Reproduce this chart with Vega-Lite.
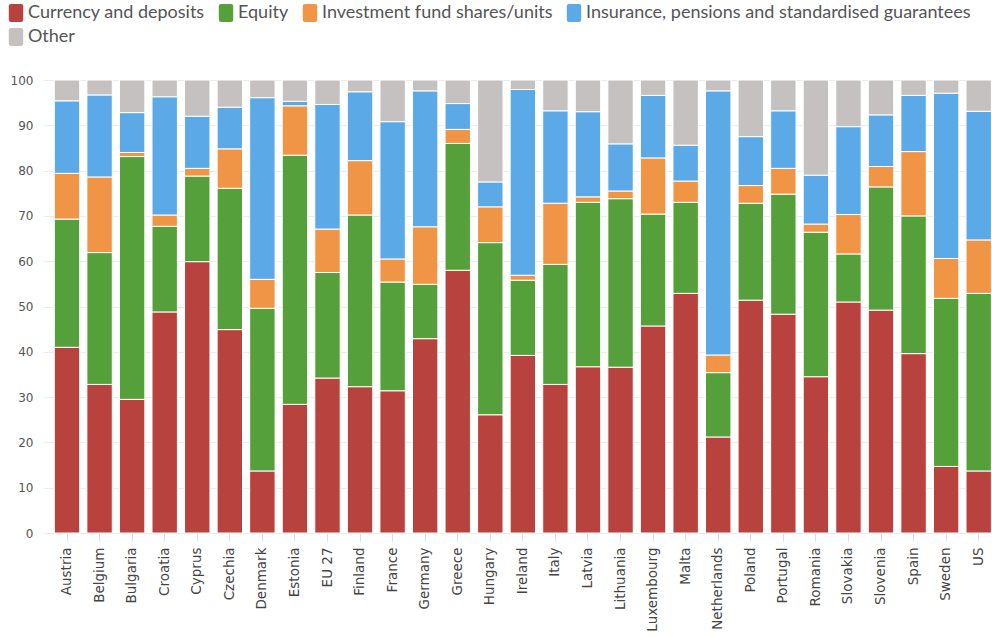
{
  "$schema": "https://vega.github.io/schema/vega-lite/v6.json",
  "autosize": {"type": "none"},
  "width": 949,
  "height": 453,
  "padding": {"left": 43, "top": 80, "right": 0, "bottom": 104},
  "background": "white",
  "data": {
    "values": [
      {"country": "Austria", "Currency and deposits": 41.0, "Equity": 28.3, "Investment fund shares/units": 10.1, "Insurance, pensions and standardised guarantees": 16.0, "Other": 4.6},
      {"country": "Belgium", "Currency and deposits": 32.8, "Equity": 29.1, "Investment fund shares/units": 16.7, "Insurance, pensions and standardised guarantees": 18.1, "Other": 3.3},
      {"country": "Bulgaria", "Currency and deposits": 29.5, "Equity": 53.6, "Investment fund shares/units": 0.9, "Insurance, pensions and standardised guarantees": 8.8, "Other": 7.2},
      {"country": "Croatia", "Currency and deposits": 48.8, "Equity": 18.9, "Investment fund shares/units": 2.5, "Insurance, pensions and standardised guarantees": 26.1, "Other": 3.7},
      {"country": "Cyprus", "Currency and deposits": 59.9, "Equity": 18.9, "Investment fund shares/units": 1.7, "Insurance, pensions and standardised guarantees": 11.5, "Other": 8.0},
      {"country": "Czechia", "Currency and deposits": 44.9, "Equity": 31.2, "Investment fund shares/units": 8.7, "Insurance, pensions and standardised guarantees": 9.2, "Other": 6.0},
      {"country": "Denmark", "Currency and deposits": 13.7, "Equity": 35.9, "Investment fund shares/units": 6.4, "Insurance, pensions and standardised guarantees": 40.1, "Other": 3.9},
      {"country": "Estonia", "Currency and deposits": 28.4, "Equity": 55.0, "Investment fund shares/units": 10.9, "Insurance, pensions and standardised guarantees": 1.0, "Other": 4.7},
      {"country": "EU 27", "Currency and deposits": 34.2, "Equity": 23.3, "Investment fund shares/units": 9.6, "Insurance, pensions and standardised guarantees": 27.5, "Other": 5.4},
      {"country": "Finland", "Currency and deposits": 32.3, "Equity": 37.9, "Investment fund shares/units": 12.0, "Insurance, pensions and standardised guarantees": 15.2, "Other": 2.6},
      {"country": "France", "Currency and deposits": 31.4, "Equity": 24.0, "Investment fund shares/units": 5.1, "Insurance, pensions and standardised guarantees": 30.3, "Other": 9.2},
      {"country": "Germany", "Currency and deposits": 42.9, "Equity": 12.0, "Investment fund shares/units": 12.7, "Insurance, pensions and standardised guarantees": 30.0, "Other": 2.4},
      {"country": "Greece", "Currency and deposits": 58.0, "Equity": 28.0, "Investment fund shares/units": 3.1, "Insurance, pensions and standardised guarantees": 5.7, "Other": 5.2},
      {"country": "Hungary", "Currency and deposits": 26.1, "Equity": 38.0, "Investment fund shares/units": 7.9, "Insurance, pensions and standardised guarantees": 5.5, "Other": 22.5},
      {"country": "Ireland", "Currency and deposits": 39.2, "Equity": 16.6, "Investment fund shares/units": 1.1, "Insurance, pensions and standardised guarantees": 41.0, "Other": 2.1},
      {"country": "Italy", "Currency and deposits": 32.8, "Equity": 26.5, "Investment fund shares/units": 13.5, "Insurance, pensions and standardised guarantees": 20.4, "Other": 6.8},
      {"country": "Latvia", "Currency and deposits": 36.7, "Equity": 36.3, "Investment fund shares/units": 1.2, "Insurance, pensions and standardised guarantees": 18.8, "Other": 7.0},
      {"country": "Lithuania", "Currency and deposits": 36.6, "Equity": 37.2, "Investment fund shares/units": 1.7, "Insurance, pensions and standardised guarantees": 10.4, "Other": 14.1},
      {"country": "Luxembourg", "Currency and deposits": 45.7, "Equity": 24.7, "Investment fund shares/units": 12.4, "Insurance, pensions and standardised guarantees": 13.8, "Other": 3.4},
      {"country": "Malta", "Currency and deposits": 52.9, "Equity": 20.1, "Investment fund shares/units": 4.7, "Insurance, pensions and standardised guarantees": 7.9, "Other": 14.4},
      {"country": "Netherlands", "Currency and deposits": 21.2, "Equity": 14.2, "Investment fund shares/units": 3.9, "Insurance, pensions and standardised guarantees": 58.3, "Other": 2.4},
      {"country": "Poland", "Currency and deposits": 51.4, "Equity": 21.4, "Investment fund shares/units": 3.9, "Insurance, pensions and standardised guarantees": 10.8, "Other": 12.5},
      {"country": "Portugal", "Currency and deposits": 48.3, "Equity": 26.5, "Investment fund shares/units": 5.7, "Insurance, pensions and standardised guarantees": 12.7, "Other": 6.8},
      {"country": "Romania", "Currency and deposits": 34.5, "Equity": 31.9, "Investment fund shares/units": 1.8, "Insurance, pensions and standardised guarantees": 10.8, "Other": 21.0},
      {"country": "Slovakia", "Currency and deposits": 51.0, "Equity": 10.6, "Investment fund shares/units": 8.7, "Insurance, pensions and standardised guarantees": 19.4, "Other": 10.3},
      {"country": "Slovenia", "Currency and deposits": 49.2, "Equity": 27.2, "Investment fund shares/units": 4.5, "Insurance, pensions and standardised guarantees": 11.4, "Other": 7.7},
      {"country": "Spain", "Currency and deposits": 39.6, "Equity": 30.4, "Investment fund shares/units": 14.2, "Insurance, pensions and standardised guarantees": 12.4, "Other": 3.4},
      {"country": "Sweden", "Currency and deposits": 14.7, "Equity": 37.1, "Investment fund shares/units": 8.8, "Insurance, pensions and standardised guarantees": 36.5, "Other": 2.9},
      {"country": "US", "Currency and deposits": 13.7, "Equity": 39.2, "Investment fund shares/units": 11.8, "Insurance, pensions and standardised guarantees": 28.4, "Other": 6.9}
    ]
  },
  "transform": [
    {
      "fold": ["Currency and deposits", "Equity", "Investment fund shares/units", "Insurance, pensions and standardised guarantees", "Other"],
      "as": ["asset", "share"]
    },
    {"window": [{"op": "row_number", "as": "layer"}], "groupby": ["country"]}
  ],
  "mark": {"type": "bar", "stroke": "white", "strokeWidth": 1},
  "encoding": {
    "x": {
      "field": "country",
      "type": "nominal",
      "sort": null,
      "title": null,
      "scale": {"paddingInner": 0.22, "paddingOuter": 0.183, "align": 0.95},
      "axis": {
        "labelAngle": -90,
        "labelFont": "DejaVu Sans",
        "labelFontSize": 13.5,
        "labelColor": "#444444",
        "labelPadding": 6,
        "domain": false,
        "ticks": true,
        "tickColor": "#dddddd",
        "tickSize": 8,
        "grid": false
      }
    },
    "y": {
      "field": "share",
      "type": "quantitative",
      "stack": "zero",
      "title": null,
      "scale": {"domain": [0, 100], "nice": false},
      "axis": {
        "values": [0, 10, 20, 30, 40, 50, 60, 70, 80, 90, 100],
        "labelFont": "DejaVu Sans",
        "labelFontSize": 12,
        "labelColor": "#555555",
        "labelPadding": 10,
        "domain": false,
        "ticks": false,
        "grid": true,
        "gridColor": "#ececec",
        "gridWidth": 1
      }
    },
    "order": {"field": "layer", "type": "quantitative", "sort": "ascending"},
    "color": {
      "field": "asset",
      "type": "nominal",
      "sort": ["Currency and deposits", "Equity", "Investment fund shares/units", "Insurance, pensions and standardised guarantees", "Other"],
      "scale": {
        "domain": ["Currency and deposits", "Equity", "Investment fund shares/units", "Insurance, pensions and standardised guarantees", "Other"],
        "range": ["#b8423d", "#56a03b", "#ef9545", "#5ba9e6", "#c5c1c0"]
      },
      "legend": {
        "title": null,
        "orient": "none",
        "legendX": -36,
        "legendY": -76,
        "direction": "horizontal",
        "columns": 4,
        "symbolType": "M-0.55,-1L0.55,-1Q0.8,-1 0.8,-0.75L0.8,0.75Q0.8,1 0.55,1L-0.55,1Q-0.8,1 -0.8,0.75L-0.8,-0.75Q-0.8,-1 -0.55,-1Z",
        "symbolSize": 324,
        "symbolStrokeWidth": 0,
        "symbolOpacity": 1,
        "labelFont": "Lato",
        "labelFontSize": 18,
        "labelColor": "#555555",
        "labelOffset": 3,
        "labelLimit": 600,
        "columnPadding": 12,
        "rowPadding": 6
      }
    }
  },
  "config": {
    "view": {"stroke": null}
  }
}
